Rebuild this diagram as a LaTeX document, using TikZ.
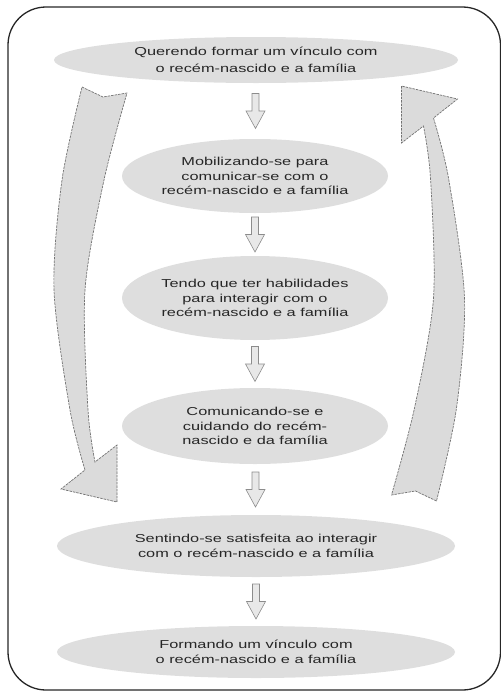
\documentclass[tikz,border=0pt]{standalone}
\usepackage{fontspec}
\setmainfont{Liberation Sans}[FakeStretch=1.42]
\usetikzlibrary{shapes.geometric}
\usetikzlibrary{calc}
\definecolor{ovalgray}{gray}{0.87}
\definecolor{loopgray}{gray}{0.86}
\definecolor{edgegray}{gray}{0.45}

\begin{document}
\begin{tikzpicture}[x=1pt,y=-1pt,
    stage/.style={ellipse, fill=ovalgray, text=black!85, align=center, inner sep=0pt,
        font=\fontsize{11.5}{14.5}\selectfont},
    loopedge/.style={draw=edgegray, fill=loopgray, line width=0.7pt,
        dash pattern=on 2.5pt off 1pt},
    blockdown/.pic={\draw[draw=black!45, fill=black!9, line width=0.6pt]
        (-3.5,-17.5) -- (3.5,-17.5) -- (3.5,0) -- (9.5,0) -- (0,17.5)
        -- (-9.5,0) -- (-3.5,0) -- cycle;}]
    \useasboundingbox (0,0) rectangle (501,694);
    \draw[black!85, line width=1.3pt, rounded corners=38pt] (8,7) rectangle (500.5,690);

    \foreach \ang in {0,180}
        \draw[loopedge, rotate around={\ang:(259.25,294)}] (82,87) -- (103,97) -- (127,93)
            -- plot[smooth] coordinates {(127,93) (104,180) (85,290) (88,410) (95,462)}
            -- (117,445) -- (117,502) -- (61,489) -- (85,470)
            -- plot[smooth] coordinates {(85,470) (70,410) (54,290) (62,180) (82,87)} -- cycle;

    \node[stage, minimum width=404pt, minimum height=46pt, font=\fontsize{11.5}{17.5}\selectfont] (want) at (256,60)
        {Querendo formar um vínculo com\\o recém-nascido e a família};
    \node[stage, minimum width=266pt, minimum height=74pt] (mobil) at (255,176)
        {Mobilizando-se para\\comunicar-se com o\\recém-nascido e a família};
    \node[stage, minimum width=266pt, minimum height=84pt] (skill) at (255,298)
        {Tendo que ter habilidades\\para interagir com o\\recém-nascido e a família};
    \node[stage, minimum width=266pt, minimum height=76pt] (care) at (255,426)
        {Comunicando-se e\\cuidando do recém-\\nascido e da família};
    \node[stage, minimum width=398pt, minimum height=62pt] (satisf) at (256,546)
        {Sentindo-se satisfeita ao interagir\\com o recém-nascido e a família};
    \node[stage, minimum width=398pt, minimum height=52pt] (bond) at (256,652)
        {Formando um vínculo com\\o recém-nascido e a família};

    \foreach \a/\b in {want/mobil, mobil/skill, skill/care, care/satisf, satisf/bond}
        \pic at ($(\a.south)!.5!(\b.north)$) {blockdown};
\end{tikzpicture}
\end{document}
